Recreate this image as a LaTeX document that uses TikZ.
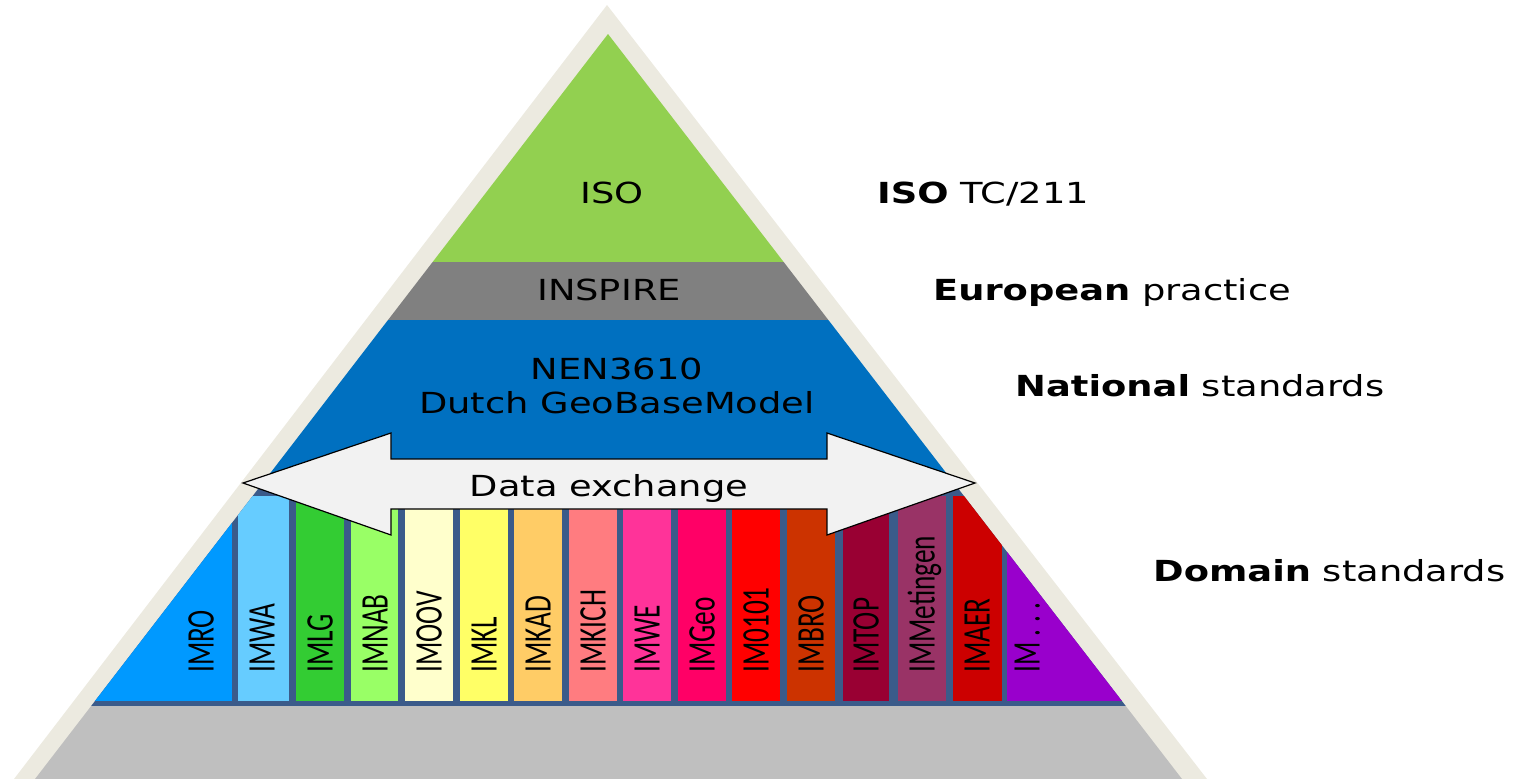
\documentclass[tikz,border=0pt]{standalone}
\usepackage{fontspec}
\newfontfamily\verdfont[FakeStretch=1.27]{DejaVu Sans}
\newfontfamily\condfont[FakeStretch=0.7]{Carlito}

\definecolor{rim}{RGB}{236,234,224}
\definecolor{isogreen}{RGB}{146,208,80}
\definecolor{inspiregray}{RGB}{128,128,128}
\definecolor{nenblue}{RGB}{0,112,192}
\definecolor{stripblue}{RGB}{59,91,138}
\definecolor{basegray}{RGB}{191,191,191}
\definecolor{arrowgray}{RGB}{242,242,242}
\definecolor{cIMRO}{RGB}{0,153,255}
\definecolor{cIMWA}{RGB}{102,204,255}
\definecolor{cIMLG}{RGB}{51,204,51}
\definecolor{cIMNAB}{RGB}{153,255,102}
\definecolor{cIMOOV}{RGB}{255,255,204}
\definecolor{cIMKL}{RGB}{255,255,102}
\definecolor{cIMKAD}{RGB}{255,204,102}
\definecolor{cIMKICH}{RGB}{255,124,128}
\definecolor{cIMWE}{RGB}{255,51,153}
\definecolor{cIMGeo}{RGB}{255,0,102}
\definecolor{cIMZero}{RGB}{255,0,0}
\definecolor{cIMBRO}{RGB}{204,51,0}
\definecolor{cIMTOP}{RGB}{153,0,51}
\definecolor{cIMMet}{RGB}{153,51,102}
\definecolor{cIMAER}{RGB}{204,0,0}
\definecolor{cIMDots}{RGB}{153,0,204}

\begin{document}
\begin{tikzpicture}[x=1pt,y=-1pt,
    level/.style={font=\verdfont\fontsize{29}{34}\selectfont,anchor=base,inner sep=0pt},
    side/.style={font=\verdfont\fontsize{29}{34}\selectfont,anchor=base west,inner sep=0pt},
    model/.style={font=\condfont\fontsize{39}{40}\selectfont,rotate=90,anchor=west,
                  inner sep=0pt,text height=25pt,text depth=0pt}]
    \useasboundingbox (0,0) rectangle (1521,779);

    % pyramid
    \fill[rim] (607,5) -- (1207,779) -- (14,779) -- cycle;
    \begin{scope}
    \clip (608,34) -- (1182,779) -- (35,779) -- cycle;
    \fill[isogreen] (0,0) rectangle (1521,262);
    \fill[inspiregray] (0,262) rectangle (1521,320);
    \fill[nenblue] (0,320) rectangle (1521,489);
    \fill[stripblue] (0,489) rectangle (1521,706);
    \fill[basegray] (0,706) rectangle (1521,779);

    % domain models
    \fill[cIMRO] (0,496) rectangle (232,701);
    \fill[cIMWA] (238,496) rectangle (289,701);
    \fill[cIMLG] (296,496) rectangle (344,701);
    \fill[cIMNAB] (351,496) rectangle (398,701);
    \fill[cIMOOV] (405,496) rectangle (453,701);
    \fill[cIMKL] (460,496) rectangle (508,701);
    \fill[cIMKAD] (514,496) rectangle (562,701);
    \fill[cIMKICH] (569,496) rectangle (617,701);
    \fill[cIMWE] (623,496) rectangle (671,701);
    \fill[cIMGeo] (678,496) rectangle (726,701);
    \fill[cIMZero] (732,496) rectangle (780,701);
    \fill[cIMBRO] (787,496) rectangle (835,701);
    \fill[cIMTOP] (843,496) rectangle (889,701);
    \fill[cIMMet] (898,496) rectangle (946,701);
    \fill[cIMAER] (953,496) rectangle (1002,701);
    \fill[cIMDots] (1007,496) rectangle (1300,701);
    \end{scope}

    \node[model] (IMRO) at (201,673) {IMRO};
    \node[model] (IMWA) at (262,673) {IMWA};
    \node[model] (IMLG) at (320,673) {IMLG};
    \node[model] (IMNAB) at (375,673) {IMNAB};
    \node[model] (IMOOV) at (429,673) {IMOOV};
    \node[model] (IMKL) at (484,673) {IMKL};
    \node[model] (IMKAD) at (538,673) {IMKAD};
    \node[model] (IMKICH) at (593,673) {IMKICH};
    \node[model] (IMWE) at (647,673) {IMWE};
    \node[model] (IMGeo) at (702,673) {IMGeo};
    \node[model] (IMZero) at (756,673) {IM0101};
    \node[model] (IMBRO) at (811,673) {IMBRO};
    \node[model] (IMTOP) at (866,673) {IMTOP};
    \node[model] (IMMet) at (922,673) {IMMetingen};
    \node[model] (IMAER) at (977,673) {IMAER};
    \node[model] (IMDots) at (1027,673) {IM\,.\,.\,.};

    % levels
    \node[level] (ISO) at (612,203) {ISO};
    \node[level] (INSPIRE) at (609,300) {INSPIRE};
    \node[level] (NEN) at (617,379) {NEN3610};
    \node[level] (GBM) at (617,413) {Dutch GeoBaseModel};

    % data exchange arrow
    \draw[fill=arrowgray,line width=1.2pt,line join=miter]
        (243,483) -- (391,433) -- (391,459) -- (827,459) -- (827,433) -- (975,483)
        -- (827,535) -- (827,509) -- (391,509) -- (391,535) -- cycle;
    \node[level] (DX) at (609,496) {Data exchange};

    % side labels
    \node[side] (TC) at (877,203) {{\bfseries ISO} TC/211};
    \node[side] (EU) at (933,300) {{\bfseries European} practice};
    \node[side] (NL) at (1015,396) {{\bfseries National} standards};
    \node[side] (DOM) at (1153,581) {{\bfseries Domain} standards};
\end{tikzpicture}
\end{document}
